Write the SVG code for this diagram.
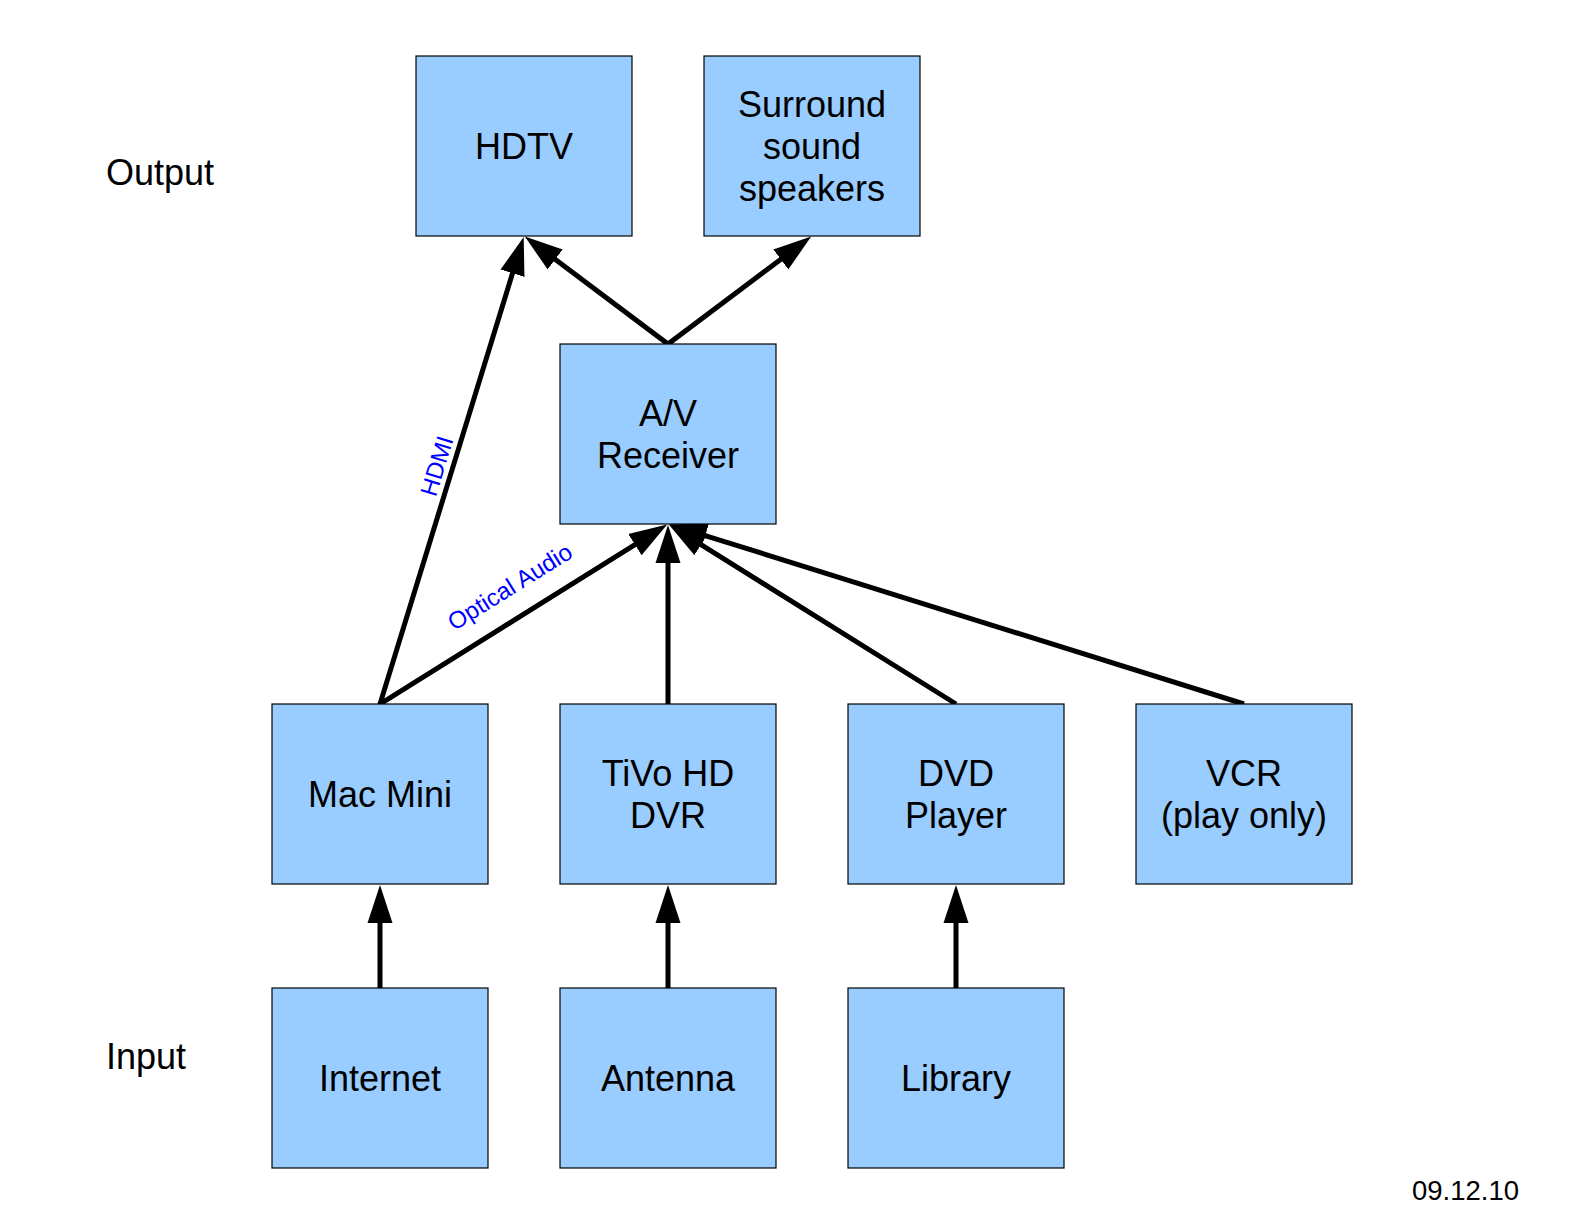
<svg xmlns="http://www.w3.org/2000/svg" width="1584" height="1224" viewBox="0 0 1584 1224">
<style>
.box{fill:#99ccff;stroke:#000;stroke-width:1.2}
.t{font-family:"Liberation Sans",Arial,sans-serif;font-size:36px;fill:#000;text-anchor:middle}
.side{font-family:"Liberation Sans",Arial,sans-serif;font-size:36px;fill:#000}
.lbl{font-family:"Liberation Sans",Arial,sans-serif;font-size:24px;fill:#0000ff;text-anchor:middle}
.c{fill:none;stroke:#000;stroke-width:5;stroke-linejoin:miter;stroke-miterlimit:10;marker-end:url(#ah)}
.c2{marker-start:url(#ahs)}
</style>
<defs>
<marker id="ah" markerUnits="userSpaceOnUse" markerWidth="40" markerHeight="26" viewBox="0 -13 40 26" refX="1" refY="0" orient="auto">
<path d="M0,-12.5 L38,0 L0,12.5 z" fill="#000"/>
</marker>
<marker id="ahs" markerUnits="userSpaceOnUse" markerWidth="40" markerHeight="26" viewBox="0 -13 40 26" refX="1" refY="0" orient="auto-start-reverse">
<path d="M0,-12.5 L38,0 L0,12.5 z" fill="#000"/>
</marker>
</defs>
<rect width="1584" height="1224" fill="#fff"/>
<g id="connectors">
<path class="c c2" d="M554.4,258.8 L668,344 L781.6,258.8"/>
<path class="c c2" d="M512.8,272.3 L380,704 L635.8,544.1"/>
<path class="c" d="M668,704 L668,562"/>
<path class="c" d="M956,704 L700.2,544.1"/>
<path class="c" d="M1244,704 L704.3,535.3"/>
<path class="c" d="M380,988 L380,922"/>
<path class="c" d="M668,988 L668,922"/>
<path class="c" d="M956,988 L956,922"/>
<text class="lbl" transform="translate(437,466) rotate(-72.9)" y="8">HDMI</text>
<text class="lbl" transform="translate(510,587) rotate(-32)" y="8">Optical Audio</text>
</g>
<g id="hdtv"><rect class="box" x="416" y="56" width="216" height="180"/><text class="t" x="524" y="159">HDTV</text></g>
<g id="speakers"><rect class="box" x="704" y="56" width="216" height="180"/><text class="t" x="812" y="117">Surround</text><text class="t" x="812" y="159">sound</text><text class="t" x="812" y="201">speakers</text></g>
<g id="receiver"><rect class="box" x="560" y="344" width="216" height="180"/><text class="t" x="668" y="426">A/V</text><text class="t" x="668" y="468">Receiver</text></g>
<g id="macmini"><rect class="box" x="272" y="704" width="216" height="180"/><text class="t" x="380" y="807">Mac Mini</text></g>
<g id="tivo"><rect class="box" x="560" y="704" width="216" height="180"/><text class="t" x="668" y="786">TiVo HD</text><text class="t" x="668" y="828">DVR</text></g>
<g id="dvd"><rect class="box" x="848" y="704" width="216" height="180"/><text class="t" x="956" y="786">DVD</text><text class="t" x="956" y="828">Player</text></g>
<g id="vcr"><rect class="box" x="1136" y="704" width="216" height="180"/><text class="t" x="1244" y="786">VCR</text><text class="t" x="1244" y="828">(play only)</text></g>
<g id="internet"><rect class="box" x="272" y="988" width="216" height="180"/><text class="t" x="380" y="1091">Internet</text></g>
<g id="antenna"><rect class="box" x="560" y="988" width="216" height="180"/><text class="t" x="668" y="1091">Antenna</text></g>
<g id="library"><rect class="box" x="848" y="988" width="216" height="180"/><text class="t" x="956" y="1091">Library</text></g>
<g id="labels">
<text class="side" x="106" y="185">Output</text>
<text class="side" x="106" y="1069">Input</text>
<text class="side" x="1412" y="1200" style="font-size:27.5px">09.12.10</text>
</g>
</svg>
